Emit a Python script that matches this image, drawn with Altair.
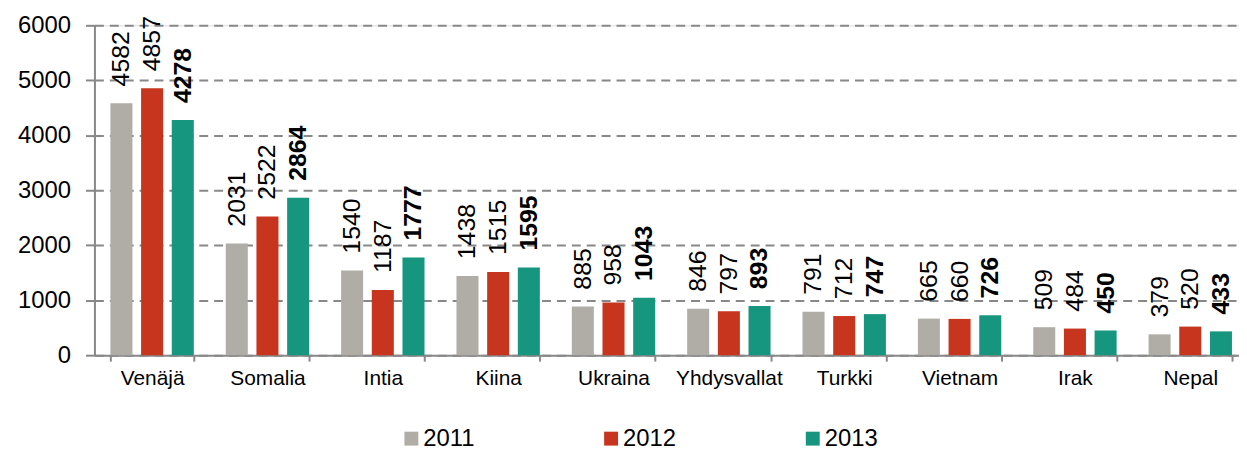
import altair as alt
import pandas as pd

countries = ["Venäjä", "Somalia", "Intia", "Kiina", "Ukraina",
             "Yhdysvallat", "Turkki", "Vietnam", "Irak", "Nepal"]
years = ["2011", "2012", "2013"]
v2011 = [4582, 2031, 1540, 1438, 885, 846, 791, 665, 509, 379]
v2012 = [4857, 2522, 1187, 1515, 958, 797, 712, 660, 484, 520]
v2013 = [4278, 2864, 1777, 1595, 1043, 893, 747, 726, 450, 433]
colors = ["#B0ADA6", "#C8351E", "#17967F"]
y_ticks = [0, 1000, 2000, 3000, 4000, 5000, 6000]

rows = []
for yr, vals in zip(years, [v2011, v2012, v2013]):
    for c, v in zip(countries, vals):
        rows.append({"maa": c, "vuosi": yr, "arvo": v})
df = pd.DataFrame(rows)

FONT = "Liberation Sans"
GRAY = "#888888"

x_enc = alt.X("maa:N", sort=countries, title=None,
              scale=alt.Scale(paddingInner=0.277, paddingOuter=0.1385, range=[0, 1161]),
              axis=alt.Axis(labelAngle=0, labelFontSize=21, labelFont=FONT, labelColor="#000000",
                            domainColor=GRAY, domainWidth=2, tickColor=GRAY, tickWidth=2,
                            tickSize=6, tickBand="extent", labelPadding=7, grid=False))
xo_enc = alt.XOffset("vuosi:N", sort=years,
                     scale=alt.Scale(paddingInner=0.282, paddingOuter=0))
y_enc = alt.Y("arvo:Q", title=None,
              scale=alt.Scale(domain=[0, 6000], nice=False),
              axis=alt.Axis(values=y_ticks, format="d", labelFontSize=24, labelFont=FONT,
                            labelColor="#000000",
                            domainColor=GRAY, domainWidth=2, tickColor=GRAY, tickWidth=2,
                            tickSize=9, labelPadding=15, grid=True, gridColor=GRAY,
                            gridWidth=2, gridDash=[9, 6]))

base = alt.Chart(df)

bars = base.mark_bar().encode(
    x=x_enc, xOffset=xo_enc, y=y_enc,
    color=alt.Color("vuosi:N", sort=years,
                    scale=alt.Scale(domain=years, range=colors),
                    legend=alt.Legend(title=None, orient="none", legendX=307, legendY=404,
                                      direction="horizontal", symbolType="square",
                                      symbolSize=196, symbolStrokeWidth=0,
                                      labelFontSize=24, labelFont=FONT, labelColor="#000000",
                                      columnPadding=125, labelOffset=0))
)

labels_normal = base.transform_filter(alt.datum.vuosi != "2013").mark_text(
    angle=270, align="left", baseline="middle", dx=17, fontSize=25, font=FONT, color="#000000"
).encode(x=alt.X("maa:N", sort=countries), xOffset=alt.XOffset("vuosi:N", sort=years),
         y="arvo:Q", text="arvo:Q")

labels_bold = base.transform_filter(alt.datum.vuosi == "2013").mark_text(
    angle=270, align="left", baseline="middle", dx=17, fontSize=25, font=FONT,
    fontWeight="bold", color="#000000"
).encode(x=alt.X("maa:N", sort=countries), xOffset=alt.XOffset("vuosi:N", sort=years),
         y="arvo:Q", text="arvo:Q")

chart = alt.layer(bars, labels_normal, labels_bold).properties(
    width=1152, height=332,
    autosize=alt.AutoSizeParams(type="none"),
    padding={"left": 87, "top": 16, "right": 0, "bottom": 94},
).configure_view(stroke=None).configure(background="#ffffff")

chart.save("out.html", embed_options={"renderer": "svg", "actions": False})
